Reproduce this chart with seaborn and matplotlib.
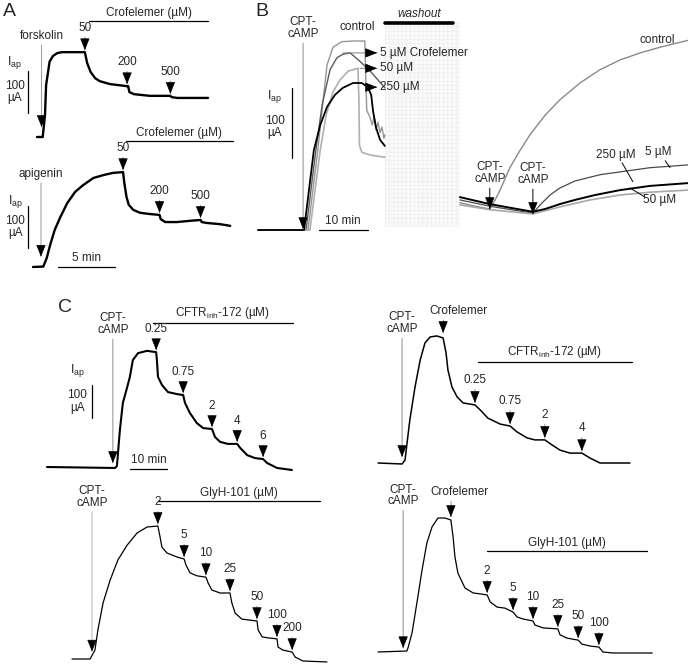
import numpy as np
import seaborn as sns
import matplotlib.pyplot as plt
import matplotlib.transforms as mtransforms
from matplotlib.patches import Rectangle

# ---------------- data (time in min, current in uA) ----------------
# A, top: forskolin then crofelemer
a1_t = [0, 0.5, 0.7, 0.8, 1.0, 1.1, 1.4, 1.8, 2.2, 4.2, 4.4, 4.7, 5.1, 5.5, 6.4, 7.9,
        8.0, 8.1, 8.5, 9.9, 11.7, 11.8, 12.3, 15.0]
a1_i = [0, 0, 52, 124, 160, 179, 193, 200, 202, 202, 176, 155, 140, 133, 126, 121,
        121, 107, 102, 98, 98, 95, 93, 93]
a1_add_t = [4.2, 7.9, 11.7]
a1_add = ['50', '200', '500']

# A, bottom: apigenin then crofelemer
a2_t = [0, 0.9, 1.2, 1.5, 1.9, 2.4, 3.0, 3.7, 4.4, 5.3, 6.2, 7.0, 7.9, 8.0, 8.2, 8.4,
        8.8, 9.4, 10.3, 11.1, 11.2, 11.6, 12.6, 13.8, 14.7, 14.8, 15.2, 16.4, 17.3]
a2_i = [0, 1, 21, 52, 88, 119, 152, 179, 195, 212, 219, 224, 226, 202, 167, 148,
        136, 129, 126, 124, 114, 107, 107, 110, 112, 107, 105, 102, 98]
a2_add_t = [7.9, 11.1, 14.7]
a2_add = ['50', '200', '500']

# B, before washout
bl_ctrl_t = [0, 10.2, 11.2, 12.2, 13.3, 14.1, 15.3, 17.1, 19.4, 21.8, 22.0, 22.2, 22.9,
             23.3, 23.7, 24.1, 24.5, 24.9, 25.3, 25.7, 25.9]
bl_ctrl_i = [0, 0, 57, 114, 186, 236, 261, 269, 270, 270, 214, 171, 160,
             150, 161, 143, 154, 139, 147, 131, 136]
bl_5_t = [0, 9.8, 11.8, 13.1, 14.7, 16.1, 17.3, 18.8, 20.8, 22.9, 24.9, 25.9]
bl_5_i = [0, 0, 114, 179, 229, 246, 251, 253, 241, 227, 211, 203]
bl_50_t = [0, 10.6, 12.7, 13.9, 15.3, 16.7, 18.4, 20.4, 20.6, 20.7, 21.2, 22.9, 25.9]
bl_50_i = [0, 0, 114, 164, 197, 214, 227, 231, 186, 121, 111, 107, 104]
bl_250_t = [0, 9.4, 11.4, 12.7, 14.1, 15.7, 17.3, 19.4, 21.2, 22.4, 23.1, 23.5, 24.1, 24.9, 25.9]
bl_250_i = [0, 0, 114, 150, 176, 193, 203, 210, 210, 204, 193, 169, 146, 129, 120]

# B, after washout
br_ctrl_t = [41.2, 44.3, 47.3, 48.4, 49.4, 51.4, 53.5, 55.5, 58.6, 61.6, 65.7, 69.8,
             73.9, 78.0, 82.0, 87.8]
br_ctrl_i = [39, 34, 30, 43, 57, 89, 114, 136, 164, 186, 210, 229, 243, 253, 261, 271]
br_5_t = [41.2, 47.3, 56.1, 57.6, 59.6, 61.6, 64.7, 69.8, 74.9, 80.0, 87.8]
br_5_i = [43, 34, 24, 36, 50, 60, 70, 79, 84, 89, 93]
br_250_t = [41.2, 47.3, 56.1, 58.6, 61.6, 64.7, 68.8, 73.9, 80.0, 87.8]
br_250_i = [47, 37, 26, 30, 37, 43, 50, 57, 63, 67]
br_50_t = [41.2, 47.3, 56.1, 61.6, 67.8, 73.9, 80.0, 87.8]
br_50_i = [36, 29, 23, 33, 43, 50, 54, 57]
b_cpt_t = [9.2, 47.3, 56.1]
washout_t = [25.9, 41.2]

# C, top left: CFTRinh-172
ctl_t = [0, 18.4, 18.9, 19.7, 20.5, 21.6, 22.4, 23.2, 24.6, 27.0, 29.5, 29.7, 30.0, 31.1,
         32.7, 35.1, 36.8, 37.3, 38.6, 40.5, 42.2, 44.6, 45.4, 46.8, 48.9, 51.4, 52.2,
         54.1, 56.2, 58.4, 59.5, 62.2, 66.2]
ctl_i = [0, -3, 3, 112, 194, 239, 273, 324, 345, 352, 348, 324, 273, 248,
         227, 221, 218, 194, 164, 133, 118, 115, 91, 76, 70, 70, 58,
         36, 27, 24, 12, -3, -9]
ctl_add_t = [29.5, 36.8, 44.6, 51.4, 58.4]
ctl_add = ['0.25', '0.75', '2', '4', '6']

# C, top right: crofelemer then CFTRinh-172
ctr_t = [0, 6.5, 7.3, 8.6, 10.0, 11.4, 12.7, 14.1, 15.9, 17.6, 18.4, 18.9, 20.0, 21.4,
         23.0, 26.2, 27.6, 29.7, 33.0, 35.7, 37.6, 40.3, 42.4, 45.1, 47.0, 49.2, 51.9,
         55.1, 57.3, 60.0, 68.1]
ctr_i = [0, -3, 9, 130, 230, 312, 364, 382, 385, 379, 333, 282, 230, 200,
         182, 176, 161, 136, 118, 112, 94, 76, 70, 70, 55, 39, 30,
         30, 15, 0, 0]
ctr_add_t = [26.2, 35.7, 45.1, 55.1]
ctr_add = ['0.25', '0.75', '2', '4']

# C, bottom left: GlyH-101
cbl_t = [0, 4.9, 6.2, 7.0, 8.4, 10.3, 12.4, 14.9, 17.6, 20.3, 23.2, 23.8, 24.3, 25.7,
         28.4, 30.3, 30.8, 31.9, 33.8, 36.2, 36.8, 37.8, 40.0, 42.7, 43.2, 44.1, 45.9,
         50.0, 50.3, 51.4, 53.0, 55.4, 55.7, 57.0, 59.5, 60.3, 62.4, 68.9]
cbl_i = [0, 0, 27, 88, 170, 239, 300, 345, 382, 400, 403, 370, 339, 321,
         309, 303, 285, 261, 252, 248, 230, 209, 200, 200, 170, 139, 121,
         115, 88, 67, 64, 61, 36, 27, 21, 6, -6, -9]
cbl_add_t = [23.2, 30.3, 36.2, 42.7, 50.0, 55.4, 59.5]
cbl_add = ['2', '5', '10', '25', '50', '100', '200']

# C, bottom right: crofelemer then GlyH-101
cbr_t = [0, 7.8, 8.1, 9.2, 10.5, 11.9, 13.2, 14.6, 16.2, 18.1, 19.7, 20.3, 20.8, 21.6,
         23.5, 25.7, 29.5, 30.3, 32.2, 34.3, 36.5, 37.6, 39.2, 41.9, 42.4, 44.6, 48.6,
         49.2, 51.1, 54.1, 55.1, 57.3, 59.7, 60.8, 63.5, 74.1]
cbr_i = [0, 3, 12, 58, 148, 248, 330, 379, 406, 406, 400, 348, 288, 239,
         194, 179, 173, 152, 136, 133, 121, 106, 100, 94, 82, 73, 70,
         52, 42, 36, 24, 18, 15, 0, -3, -3]
cbr_add_t = [29.5, 36.5, 41.9, 48.6, 54.1, 59.7]
cbr_add = ['2', '5', '10', '25', '50', '100']

# ---------------- style ----------------
sns.set_theme(style='white')
plt.rcParams['font.family'] = ['Liberation Sans', 'DejaVu Sans']
plt.rcParams['mathtext.fontset'] = 'custom'
plt.rcParams['mathtext.rm'] = 'Liberation Sans'
plt.rcParams['mathtext.it'] = 'Liberation Sans:italic'
plt.rcParams['hatch.linewidth'] = 0.4
FS = 8.5

W, H = 688, 664
fig = plt.figure(figsize=(W / 100, H / 100), dpi=100)

HEAD = dict(arrowstyle='-|>,head_length=0.75,head_width=0.3', color='black', lw=0.5,
            shrinkA=0, shrinkB=0, mutation_scale=10)


def panel(x0, y0, kx, ky):
    # full-figure axes; (x0, y0) is where t=0, I=0 sits (pixels from top-left)
    ax = fig.add_axes([0, 0, 1, 1])
    ax.set_xlim(-x0 / kx, (W - x0) / kx)
    ax.set_ylim(-(H - y0) / ky, y0 / ky)
    ax.set_axis_off()
    return ax


def trace(ax, t, i, color='black', lw=1.2):
    sns.lineplot(x=t, y=i, ax=ax, color=color, lw=lw, estimator=None, sort=False)


def drop_arrow(ax, t, tr_t, tr_i, label, up=16, gap=2, stem='0.6', dx=0):
    i = np.interp(t, tr_t, tr_i)
    tip = mtransforms.offset_copy(ax.transData, fig=fig, x=0, y=gap, units='dots')
    ax.annotate(label, xy=(t, i), xycoords=tip, xytext=(dx, up), textcoords='offset pixels',
                ha='center', va='bottom', fontsize=FS, linespacing=0.95,
                arrowprops=dict(arrowstyle='-', color=stem, lw=0.7, shrinkA=0, shrinkB=0,
                                relpos=(0.5 - dx / 60, 0)))
    ax.annotate('', xy=(t, i), xycoords=tip, xytext=(0, 10), textcoords='offset pixels',
                arrowprops=HEAD)


def side_arrow(ax, t0, t1, i, label, stem='0.5'):
    ax.annotate('', xy=(t1, i), xytext=(t0, i),
                arrowprops=dict(arrowstyle='-', color=stem, lw=0.7, shrinkA=0, shrinkB=0))
    ax.annotate('', xy=(t1, i), xytext=(-10, 0), textcoords='offset pixels', arrowprops=HEAD)
    ax.annotate(label, xy=(t1, i), xytext=(3, 0), textcoords='offset pixels',
                ha='left', va='center', fontsize=FS)


def drug_bar(ax, t0, t1, i, label):
    ax.plot([t0, t1], [i, i], color='black', lw=0.9)
    ax.annotate(label, xy=((t0 + t1) / 2, i), xytext=(0, 2), textcoords='offset pixels',
                ha='center', va='bottom', fontsize=FS)


def i_bar(ax, t, i0, dx, dy_lab, dy_iap):
    ax.plot([t, t], [i0, i0 + 100], color='black', lw=0.9)
    ax.annotate('100\nµA', xy=(t, i0 + 50), xytext=(dx, dy_lab), textcoords='offset pixels',
                ha='center', va='center', fontsize=FS, linespacing=1.05)
    ax.annotate(r'I$_{\mathrm{ap}}$', xy=(t, i0 + 100), xytext=(dx, dy_iap),
                textcoords='offset pixels', ha='center', va='center', fontsize=FS + 0.5)


def t_bar(ax, t0, length, i, label):
    ax.plot([t0, t0 + length], [i, i], color='black', lw=0.9)
    ax.annotate(label, xy=(t0 + length / 2, i), xytext=(0, 3), textcoords='offset pixels',
                ha='center', va='bottom', fontsize=FS)


# ---------------- A ----------------
ax = panel(37, 137, 11.4, 0.42)
trace(ax, a1_t, a1_i, lw=1.7)
drop_arrow(ax, 0.4, a1_t, a1_i, 'forskolin', up=85, gap=10)
for t, lab in zip(a1_add_t, a1_add):
    drop_arrow(ax, t, a1_t, a1_i, lab, up=16)
drug_bar(ax, 4.6, 15.0, 276, 'Crofelemer (µM)')
i_bar(ax, -0.8, 57, -13, 0, 9)

ax = panel(33, 267, 11.4, 0.42)
trace(ax, a2_t, a2_i, lw=1.7)
drop_arrow(ax, 0.7, a2_t, a2_i, 'apigenin', up=77, gap=10)
for t, lab in zip(a2_add_t, a2_add):
    drop_arrow(ax, t, a2_t, a2_i, lab, up=16)
drug_bar(ax, 8.2, 17.5, 300, 'Crofelemer (µM)')
i_bar(ax, -0.4, 45, -13, 0, 5)
t_bar(ax, 2.2, 5, 0, '5 min')

# ---------------- B ----------------
ax = panel(258, 230, 4.9, 0.7)
ax.add_patch(Rectangle((washout_t[0], 4), washout_t[1] - washout_t[0], 292,
                       facecolor='#fafafa', edgecolor='#ececec', hatch='++++', lw=0,
                       zorder=0))
ax.plot([washout_t[0], 39.8], [296, 296], color='black', lw=2.6)
ax.text(32.9, 309, 'washout', fontsize=FS, style='italic', ha='center', va='center')

trace(ax, bl_ctrl_t, bl_ctrl_i, color='#959595', lw=1.0)
trace(ax, bl_5_t, bl_5_i, color='#5a5a5a', lw=1.0)
trace(ax, bl_50_t, bl_50_i, color='#b0b0b0', lw=1.2)
trace(ax, bl_250_t, bl_250_i, color='black', lw=1.3)
trace(ax, br_ctrl_t, br_ctrl_i, color='#8a8a8a', lw=1.0)
trace(ax, br_5_t, br_5_i, color='#4a4a4a', lw=0.9)
trace(ax, br_50_t, br_50_i, color='#a8a8a8', lw=1.2)
trace(ax, br_250_t, br_250_i, color='black', lw=1.4)

drop_arrow(ax, b_cpt_t[0], bl_250_t, bl_250_i, 'CPT-\ncAMP', up=189, gap=1, stem='0.55')
drop_arrow(ax, b_cpt_t[1], br_ctrl_t, br_ctrl_i, 'CPT-\ncAMP', up=24, gap=0, stem='black')
drop_arrow(ax, b_cpt_t[2], br_50_t, br_50_i, 'CPT-\ncAMP', up=28, gap=0, stem='black')
ax.text(20.2, 290, 'control', fontsize=FS, ha='center', va='center')
side_arrow(ax, 17.3, 24.3, 253, '5 µM Crofelemer')
side_arrow(ax, 20.8, 24.3, 231, '50 µM')
side_arrow(ax, 22.4, 24.3, 204, '250 µM')

ax.text(81.4, 272, 'control', fontsize=FS, ha='center', va='center')
ax.text(73.1, 107, '250 µM', fontsize=FS, ha='center', va='center')
ax.plot([74.3, 76.5], [96, 69], color='black', lw=0.7)
ax.text(81.6, 111, '5 µM', fontsize=FS, ha='center', va='center')
ax.plot([83.1, 84.1], [99, 89], color='black', lw=0.7)
ax.text(82.0, 43, '50 µM', fontsize=FS, ha='center', va='center')
ax.plot([75.9, 79.0], [60, 47], color='black', lw=0.7)

i_bar(ax, 6.9, 103, -17, -4, -9)
t_bar(ax, 12.4, 10, 0, '10 min')

# ---------------- C ----------------
ax = panel(47, 467, 3.7, 0.33)
trace(ax, ctl_t, ctl_i, lw=1.5)
drop_arrow(ax, 17.8, ctl_t, ctl_i, 'CPT-\ncAMP', up=127, gap=5, stem='0.55')
for t, lab in zip(ctl_add_t, ctl_add):
    drop_arrow(ax, t, ctl_t, ctl_i, lab, up=15)
drug_bar(ax, 28.6, 66.5, 436, r'CFTR$_{\mathrm{inh}}$-172 (µM)')
i_bar(ax, 12.2, 148, -15, 0, 15)
t_bar(ax, 22.4, 10, -6, '10 min')

ax = panel(378, 463, 3.7, 0.33)
trace(ax, ctr_t, ctr_i, lw=1.1)
drop_arrow(ax, 6.5, ctr_t, ctr_i, 'CPT-\ncAMP', up=122, gap=7, stem='0.55')
drop_arrow(ax, 17.6, ctr_t, ctr_i, 'Crofelemer', up=16, gap=5, dx=15)
for t, lab in zip(ctr_add_t, ctr_add):
    drop_arrow(ax, t, ctr_t, ctr_i, lab, up=17)
drug_bar(ax, 27.0, 68.6, 306, r'CFTR$_{\mathrm{inh}}$-172 (µM)')

ax = panel(72, 659, 3.7, 0.33)
trace(ax, cbl_t, cbl_i, lw=0.9)
drop_arrow(ax, 5.4, cbl_t, cbl_i, 'CPT-\ncAMP', up=143, gap=4, stem='0.7')
for t, lab in zip(cbl_add_t, cbl_add):
    drop_arrow(ax, t, cbl_t, cbl_i, lab, up=16)
drug_bar(ax, 23.2, 67.0, 479, 'GlyH-101 (µM)')

ax = panel(378, 652, 3.7, 0.33)
trace(ax, cbr_t, cbr_i, lw=0.9)
drop_arrow(ax, 6.8, cbr_t, cbr_i, 'CPT-\ncAMP', up=141, gap=3, stem='0.55')
drop_arrow(ax, 19.7, cbr_t, cbr_i, 'Crofelemer', up=19, gap=3, dx=9)
for t, lab in zip(cbr_add_t, cbr_add):
    drop_arrow(ax, t, cbr_t, cbr_i, lab, up=16)
drug_bar(ax, 29.5, 72.7, 306, 'GlyH-101 (µM)')

# panel letters
for lab, px, py in [('A', 9, 12), ('B', 262, 12), ('C', 65, 308)]:
    fig.text(px / W, 1 - py / H, lab, fontsize=14, ha='center', va='center')

fig.savefig('out.png', dpi=100)
